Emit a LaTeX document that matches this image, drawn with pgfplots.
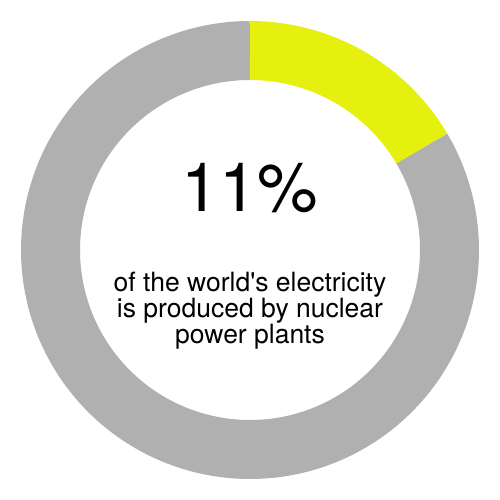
\documentclass[border=0pt]{standalone}
\usepackage{pgfplots}
\pgfplotsset{compat=1.18}
\usepackage{fontspec}
\setmainfont{TeX Gyre Heros}
\newfontfamily\hv{TeX Gyre Heros}
\definecolor{ringgray}{RGB}{176,176,176}
\definecolor{ringyellow}{RGB}{230,240,15}
% share of the ring shown in yellow (percent of 360 degrees)
\def\yshare{16.5}
\begin{document}
\begin{tikzpicture}
\begin{axis}[
  width=500pt, height=500pt, scale only axis,
  xmin=-250, xmax=250, ymin=-250, ymax=250,
  hide axis, clip=false,
]
\addplot[draw=none] coordinates {(-250,-250) (250,250)};
% gray remainder
\addplot[draw=ringgray, line width=59pt, line cap=butt, samples=300,
  domain={90-360}:{90-3.6*\yshare}] ({199.5*cos(x)}, {199.5*sin(x)});
% yellow share
\addplot[draw=ringyellow, line width=59pt, line cap=butt, samples=120,
  domain={90-3.6*\yshare}:90] ({199.5*cos(x)}, {199.5*sin(x)});
\node[font=\hv\fontsize{68}{70}\selectfont, anchor=base] at (axis cs:0,38) {11\%};
\node[font=\hv\fontsize{26.5}{26}\selectfont, anchor=base] at (axis cs:0,-42) {of the world's electricity};
\node[font=\hv\fontsize{26.5}{26}\selectfont, anchor=base] at (axis cs:0,-68) {is produced by nuclear};
\node[font=\hv\fontsize{26.5}{26}\selectfont, anchor=base] at (axis cs:0,-94) {power plants};
\end{axis}
\end{tikzpicture}
\end{document}
